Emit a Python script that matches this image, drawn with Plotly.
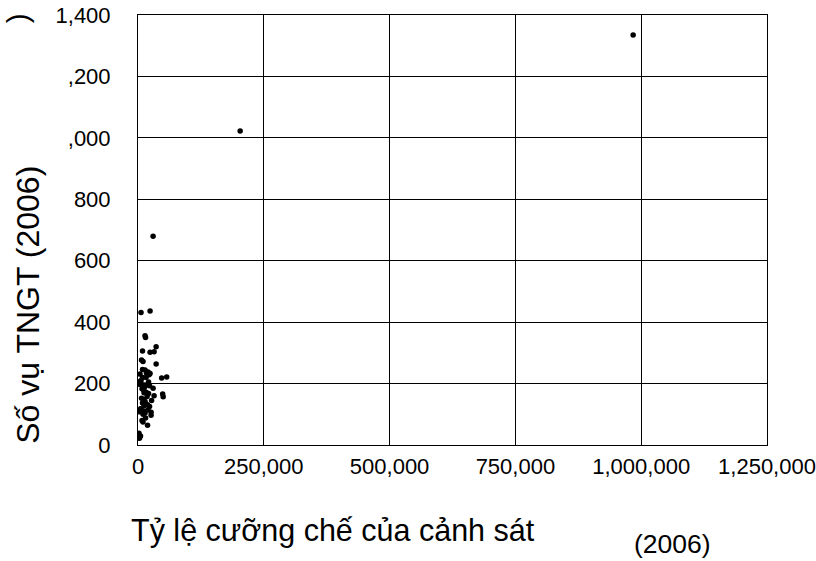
import plotly.graph_objects as go

# Data (x in enforcement count, y in number of accidents)
x_vals = [6000, 24000, 14000, 15000, 9000, 24000, 32000, 36000, 7000, 10000, 36000,
          9000, 14000, 24000, 20000, 4000, 17000, 22000, 9000, 16000, 47000, 57000,
          3000, 7000, 12000, 18000, 23000, 30000, 8000, 11000, 16000, 21000, 12000,
          49000, 50000, 7000, 11000, 14000, 9000, 16000, 12000, 19000, 23000,
          5000, 8000, 3000, 13000, 26000, 26000, 10000, 14000, 20000, 8000, 10000,
          19000, 15000, 2000, 5000, 3000, 1000, 6000, 13000, 18000, 27000, 32000, 21000,
          30000, 203000, 984000]
y_vals = [431, 436, 356, 350, 306, 302, 304, 320, 277, 272, 264,
          246, 244, 233, 238, 231, 234, 229, 220, 220, 218, 221,
          198, 197, 195, 196, 193, 185, 183, 179, 172, 168, 170,
          166, 157, 152, 148, 142, 137, 133, 128, 131, 125,
          118, 112, 108, 110, 107, 97, 100, 104, 115, 80, 75,
          64, 88, 38, 29, 22, 205, 210, 188, 158, 145, 160, 205,
          680, 1022, 1335]

x_ticks = [0, 250000, 500000, 750000, 1000000, 1250000]
x_ticktext = ["0", "250,000", "500,000", "750,000", "1,000,000", "1,250,000"]
y_ticks = [0, 200, 400, 600, 800, 1000, 1200, 1400]
y_ticktext = ["0", "200", "400", "600", "800", ",000", ",200", "1,400"]

x_title = "Tỷ lệ cưỡng chế của cảnh sát"
x_title2 = "(2006)"
y_title = "Số vụ TNGT (2006)"

FONT = "Arial, Liberation Sans, sans-serif"

fig = go.Figure()
fig.add_trace(go.Scatter(
    x=x_vals, y=y_vals, mode="markers",
    marker=dict(color="black", size=5.5, line=dict(width=0)),
    showlegend=False, hoverinfo="x+y"))

axis_common = dict(
    showline=True, linecolor="black", linewidth=1, mirror=True,
    showgrid=True, gridcolor="black", gridwidth=1, zeroline=False,
    ticks="", automargin=False, ticklabeloverflow="allow",
    tickfont=dict(family=FONT, size=22, color="black"),
)

fig.update_xaxes(range=[0, 1250000], tickvals=x_ticks, ticktext=x_ticktext,
                 ticklabelstandoff=2, **axis_common)
fig.update_yaxes(range=[0, 1400], tickvals=y_ticks, ticktext=y_ticktext,
                 ticklabelstandoff=22, **axis_common)

fig.update_layout(
    width=816, height=561,
    margin=dict(l=138, r=49, t=15, b=116, autoexpand=False),
    paper_bgcolor="white", plot_bgcolor="white",
    font=dict(family=FONT, color="black"),
    annotations=[
        dict(text=x_title, xref="paper", yref="paper", x=0.310, y=-0.198,
             xanchor="center", yanchor="middle", showarrow=False,
             font=dict(family=FONT, size=30.5, color="black")),
        dict(text=x_title2, xref="paper", yref="paper", x=0.849, y=-0.230,
             xanchor="center", yanchor="middle", showarrow=False,
             font=dict(family=FONT, size=26.5, color="black")),
        dict(text=y_title, xref="paper", yref="paper", x=-0.175, y=0.326,
             xanchor="center", yanchor="middle", showarrow=False, textangle=-90,
             font=dict(family=FONT, size=32, color="black")),
        dict(text=")", xref="paper", yref="paper", x=-0.192, y=0.993,
             xanchor="center", yanchor="middle", showarrow=False, textangle=-90,
             font=dict(family=FONT, size=30, color="black")),
    ],
)

fig.write_html("out.html")
